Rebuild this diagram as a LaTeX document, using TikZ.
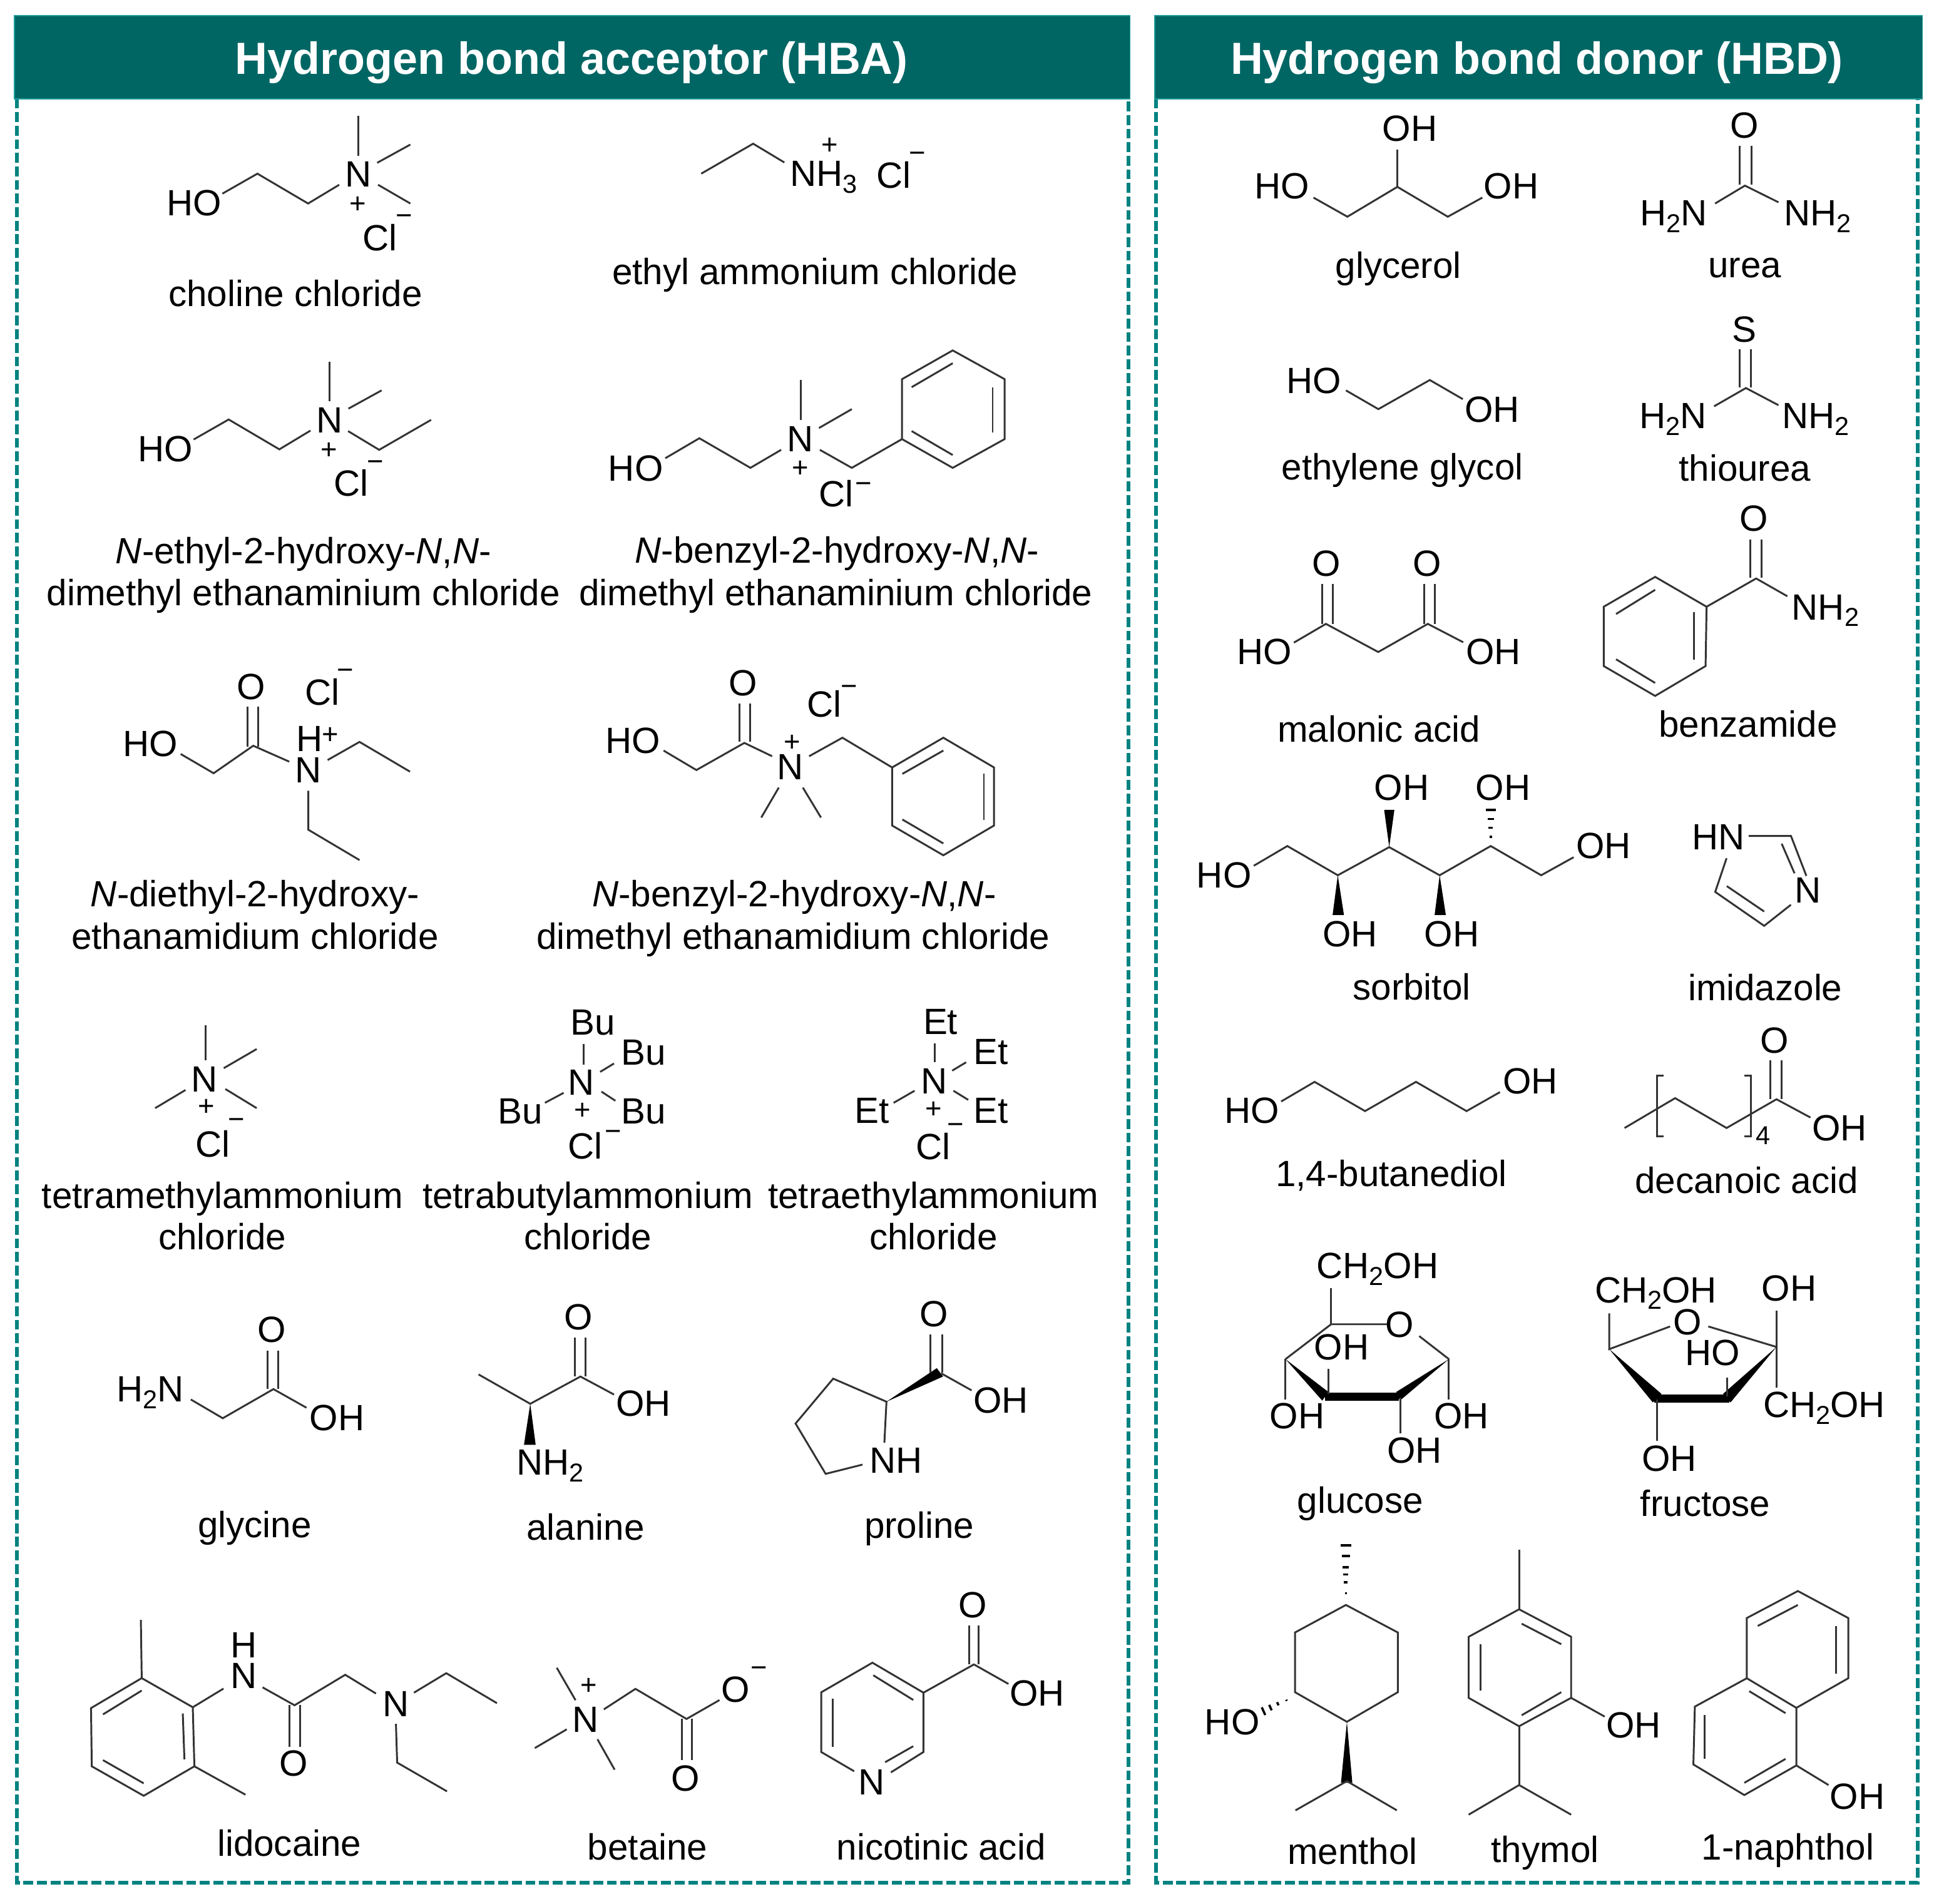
\documentclass[tikz,border=0pt]{standalone}
\usepackage{fontspec}
\setmainfont{Liberation Sans}
\definecolor{hdrteal}{HTML}{006664}
\definecolor{hdredge}{HTML}{1F9C9A}
\definecolor{dashteal}{HTML}{008280}
\definecolor{bondgray}{HTML}{333333}
\newcounter{nodeno}
\newcommand\sbs[1]{\raisebox{-5.5pt}{\fontsize{21}{21}\selectfont #1}}
\newcommand\atm[3]{\stepcounter{nodeno}\node[atomtext,anchor=base west,xshift=-1pt] (a\arabic{nodeno}) at (#1,#2) {#3};}
\newcommand\lbl[3]{\stepcounter{nodeno}\node[lbltext,anchor=base,yshift=-0.8pt] (l\arabic{nodeno}) at (#1,#2) {#3};}
\newcommand\chg[3]{\stepcounter{nodeno}\node[chgtext,yshift=-1.2pt] (c\arabic{nodeno}) at (#1,#2) {\vphantom{+}#3};}
\newcommand\bd[1]{\draw[bondline] #1;}
\newcommand\wdg[1]{\fill[wedgefill] #1 -- cycle;}
\newcommand\Nit{\textit{N}}
\tikzset{
  atomtext/.style={inner sep=0pt,font=\fontsize{29.6}{34}\selectfont,text=black},
  lbltext/.style={inner sep=0pt,font=\fontsize{29.6}{34}\selectfont,text=black},
  chgtext/.style={inner sep=0pt,font=\fontsize{23}{24}\selectfont,text=black},
  bondline/.style={line width=1.5pt,draw=bondgray,line join=miter},
  wedgefill/.style={fill=black},
  hashline/.style={line width=1.8pt,draw=black},
  panelframe/.style={line width=3pt,draw=dashteal,dash pattern=on 8pt off 3pt},
  hdrbar/.style={fill=hdrteal,draw=hdredge,line width=0.8pt},
  hdrtext/.style={inner sep=0pt,anchor=base,text=white,font=\fontsize{36.5}{40}\selectfont\bfseries},
}
\begin{document}
\begin{tikzpicture}[x=1pt,y=-1pt]
\useasboundingbox (0,0) rectangle (1568,1543.6);
% panels
\draw[panelframe] (13.5,80) -- (13.5,1526.5) -- (914.8,1526.5) -- (914.8,80);
\draw[panelframe] (937.2,80) -- (937.2,1526.5) -- (1554.6,1526.5) -- (1554.6,80);
\draw[hdrbar] (11.8,12.6) rectangle (916.2,80.2);
\draw[hdrbar] (936.2,12.6) rectangle (1558.5,80.2);
\node[hdrtext] (hba) at (463.5,60) {Hydrogen bond acceptor (HBA)};
\node[hdrtext] (hbd) at (1246,60) {Hydrogen bond donor (HBD)};

% choline chloride
\bd{(290.6,93.9)--(290.6,126.2)}
\bd{(305.8,132)--(332.7,117.2)}
\bd{(306.5,149.8)--(332.7,165)}
\bd{(180.3,157)--(208.7,140.8)--(249.8,165)--(275,149.8)}
\atm{136}{174.8}{HO}\atm{280.5}{151.5}{N}\atm{295}{203}{Cl}
\chg{290.3}{165}{+}\chg{327.5}{174.8}{−}
\lbl{239.5}{247.6}{choline chloride}

% ethyl ammonium chloride
\bd{(568.5,140.8)--(610.6,116.5)--(635.9,131.7)}
\atm{641.4}{151}{NH\sbs{3}}\atm{711.6}{152.7}{Cl}
\chg{672.8}{117}{+}\chg{744}{123.6}{−}
\lbl{660.8}{229.8}{ethyl ammonium chloride}

% N-ethyl
\bd{(267.3,293.2)--(267.3,325.5)}
\bd{(282.5,331.3)--(309.4,316.5)}
\bd{(157,356.3)--(185.4,340.1)--(226.5,364.3)--(251.7,349.1)}
\bd{(282.2,349.5)--(307.4,364.7)--(349.5,340.4)}
\atm{112.7}{374.1}{HO}\atm{257.2}{350.8}{N}\atm{271.7}{402.3}{Cl}
\chg{267}{364.3}{+}\chg{304.2}{374.1}{−}
\lbl{246}{456}{\Nit-ethyl-2-hydroxy-\Nit,\Nit-}
\lbl{246}{490.3}{dimethyl ethanaminium chloride}

% N-benzyl aminium
\bd{(649.5,308)--(649.5,340.4)}
\bd{(664,347)--(690.6,331.7)}
\bd{(539.4,371.5)--(567,355.3)--(608.4,379.3)--(633.3,364.7)}
\bd{(664.7,364.7)--(690.6,379.3)--(731.3,356)}
\bd{(731.3,356)--(731.3,307.4)--(772.4,284.1)--(814.5,307.4)--(814.5,356)--(772.4,379.3)--cycle}
\bd{(739.1,313.9)--(772.4,294.5)}
\bd{(804.8,313.9)--(804.8,350.5)}
\bd{(739.1,349.5)--(772.4,368.9)}
\atm{494}{390}{HO}\atm{639}{366.3}{N}\atm{664.7}{411}{Cl}
\chg{648.8}{379.3}{+}\chg{700.3}{391.6}{−}
\lbl{678.6}{455.7}{\Nit-benzyl-2-hydroxy-\Nit,\Nit-}
\lbl{677.6}{490.3}{dimethyl ethanaminium chloride}

% N-diethyl amidium
\bd{(146.5,611.3)--(173.2,626.9)--(205.3,604.6)--(234.5,617.5)}
\bd{(200.9,573)--(200.9,605.4)}
\bd{(209.2,573)--(209.2,605.4)}
\bd{(265.6,616.2)--(291.5,601.5)--(332.4,625.6)}
\bd{(250,641.1)--(250,672.7)--(291.5,697.3)}
\atm{100.4}{613.1}{HO}\atm{192.7}{567}{O}\atm{248}{571.7}{Cl}\atm{241}{609.3}{H}\atm{240}{634.6}{N}
\chg{279.8}{543.2}{−}\chg{267.7}{595.5}{+}
\lbl{206.8}{734}{\Nit-diethyl-2-hydroxy-}
\lbl{206.8}{768.5}{ethanamidium chloride}

% N-benzyl amidium
\bd{(538,608.5)--(564.6,624.3)--(603.5,602.3)--(626,613.1)}
\bd{(599.6,570.4)--(599.6,601.5)}
\bd{(608.1,570.4)--(608.1,601.5)}
\bd{(631.4,638.5)--(617.2,662.8)}
\bd{(650.9,638.5)--(665.6,662.8)}
\bd{(656,613.1)--(683,598.1)--(723.3,622.2)}
\bd{(723.3,622.2)--(764.8,598.1)--(805.9,622.2)--(805.9,669.3)--(764.8,693.4)--(723.3,669.3)--cycle}
\bd{(731.6,627.4)--(764.8,608.5)}
\bd{(797.7,627.4)--(797.7,664.9)}
\bd{(731.6,664.4)--(764.8,683.8)}
\atm{491.6}{610.5}{HO}\atm{591.7}{564}{O}\atm{631}{632}{N}\atm{655.2}{581.3}{Cl}
\chg{642.3}{601.5}{+}\chg{688.4}{556.2}{−}
\lbl{643.9}{734}{\Nit-benzyl-2-hydroxy-\Nit,\Nit-}
\lbl{643}{768.5}{dimethyl ethanamidium chloride}

% tetramethylammonium
\bd{(166.7,831.1)--(166.7,859.6)}
\bd{(181.4,866)--(208.1,850.5)}
\bd{(182.7,882.9)--(208.1,898.4)}
\bd{(150.4,883.7)--(125.8,898.4)}
\atm{156}{885}{N}\atm{159.4}{938}{Cl}
\chg{167.2}{896.6}{+}\chg{191.8}{907.5}{−}
\lbl{180.3}{979}{tetramethylammonium}
\lbl{180.3}{1012.4}{chloride}

% tetrabutylammonium
\bd{(473,846.6)--(473,862.9)}
\bd{(486.6,869)--(497.8,862.2)}
\bd{(441.8,894.1)--(457,886)}
\bd{(487.6,885)--(498.9,892.4)}
\atm{463.2}{839}{Bu}\atm{504.6}{863.5}{Bu}\atm{461.5}{887.7}{N}\atm{404.4}{911}{Bu}\atm{504.6}{911}{Bu}\atm{461.1}{939.3}{Cl}
\chg{472.3}{899.6}{+}\chg{497.2}{917.2}{−}
\lbl{476.6}{979}{tetrabutylammonium}
\lbl{476.6}{1012.4}{chloride}

% tetraethylammonium
\bd{(757.8,845.9)--(757.8,861.2)}
\bd{(772,868)--(783.3,861.2)}
\bd{(724.5,894.1)--(741.5,884.3)}
\bd{(773,884.3)--(785,891.7)}
\atm{749.3}{838.4}{Et}\atm{790}{862.9}{Et}\atm{747.6}{886.7}{N}\atm{693.9}{910.4}{Et}\atm{790}{910.4}{Et}\atm{743.5}{940}{Cl}
\chg{756.8}{898.5}{+}\chg{774.8}{911.5}{−}
\lbl{756.8}{979}{tetraethylammonium}
\lbl{756.8}{1012.4}{chloride}

% glycine
\bd{(154.7,1134.6)--(180.6,1149.8)--(221.7,1126.2)--(248.5,1141.3)}
\bd{(216.8,1095.2)--(216.8,1126.2)}
\bd{(225.5,1095.2)--(225.5,1126.2)}
\atm{95.5}{1136.3}{H\sbs{2}N}\atm{209.4}{1088.4}{O}\atm{251.8}{1159.9}{OH}
\lbl{206.5}{1245.9}{glycine}

% alanine
\bd{(388,1114.3)--(429.9,1138.1)--(470.6,1116)--(497.8,1130.6)}
\bd{(466.2,1084.4)--(466.2,1116)}
\bd{(474.7,1084.4)--(474.7,1116)}
\wdg{(429.9,1138.1)--(424.8,1171.4)--(434.3,1171.4)}
\atm{458.3}{1077.8}{O}\atm{500.2}{1148.3}{OH}\atm{419.7}{1195.9}{NH\sbs{2}}
\lbl{474.7}{1247.5}{alanine}

% proline
\bd{(717,1169.7)--(718.7,1136.4)--(675.5,1117.7)--(645,1154.1)--(669.4,1194.9)--(699.3,1187.4)}
\wdg{(718.7,1136.4)--(759.5,1109.2)--(764.6,1116)}
\bd{(762.9,1113.3)--(787.7,1127.2)}
\bd{(754.4,1082)--(754.4,1112.6)}
\bd{(763.9,1082)--(763.9,1112.6)}
\atm{746.5}{1075.4}{O}\atm{790}{1145.6}{OH}\atm{705.8}{1194.2}{NH}
\lbl{745.2}{1246}{proline}

% lidocaine
\bd{(114.9,1360.5)--(156.3,1384.1)--(157.6,1432)--(116.5,1455.9)--(74.4,1432)--(73.8,1384.8)--cycle}
\bd{(114.9,1360.5)--(114.2,1313.3)}
\bd{(157.6,1432)--(199,1455)}
\bd{(83.5,1389.9)--(114.9,1370.6)}
\bd{(148.2,1389.2)--(149.5,1426.3)}
\bd{(83.5,1427)--(116.5,1445.8)}
\bd{(156.3,1384.1)--(181.2,1369)}
\bd{(212.9,1368)--(238.8,1382.5)--(279.9,1357.8)--(304.8,1373)}
\bd{(234.6,1382.5)--(234.6,1416.2)}
\bd{(243.4,1382.5)--(243.4,1416.2)}
\bd{(335.6,1372.3)--(361.8,1356.5)--(402.9,1380.8)}
\bd{(321,1397.6)--(322,1429)--(362.4,1452.3)}
\atm{187.7}{1343.7}{H}\atm{187.7}{1369}{N}\atm{227.5}{1440}{O}\atm{311.3}{1391.6}{N}
\lbl{234.6}{1503.9}{lidocaine}

% betaine
\bd{(451.4,1352.1)--(466.6,1378.4)}
\bd{(433.6,1417.2)--(459.5,1402)}
\bd{(484.4,1410.1)--(498.3,1434.7)}
\bd{(489.6,1385.8)--(515.2,1369.2)--(556.6,1393.6)--(583.3,1378.3)}
\bd{(552.7,1393.6)--(552.7,1426.7)}
\bd{(561,1393.6)--(561,1426.7)}
\atm{465}{1404.4}{N}\atm{544.8}{1452.1}{O}\atm{585.4}{1380.2}{O}
\chg{477.3}{1366.3}{+}\chg{615.4}{1351.6}{−}
\lbl{525}{1507}{betaine}

% nicotinic acid
\bd{(692.5,1436)--(665.8,1420.4)--(665.8,1372)--(707.3,1348)--(748.7,1372.3)--(748.7,1420.4)--(722.3,1436.9)}
\bd{(708,1358.2)--(740.4,1378.2)}
\bd{(675.2,1377.4)--(675.2,1416.2)}
\bd{(717.6,1428.7)--(740.4,1415.7)}
\bd{(748.7,1372.3)--(789.6,1349.4)--(817.6,1365.2)}
\bd{(785.7,1317.9)--(785.7,1349.4)}
\bd{(793.5,1317.9)--(793.5,1349.4)}
\atm{696.8}{1455.3}{N}\atm{777.8}{1311.3}{O}\atm{819.5}{1383}{OH}
\lbl{763}{1507}{nicotinic acid}

% glycerol
\bd{(1132.9,121.4)--(1132.9,151.5)}
\bd{(1064.9,160.2)--(1092.4,175.7)--(1132.9,151.5)--(1173.8,175.7)--(1201.8,160.2)}
\atm{1121.6}{114.2}{OH}\atm{1018}{161.2}{HO}\atm{1203.9}{161.2}{OH}
\lbl{1133.7}{224.9}{glycerol}

% urea
\bd{(1410.6,118.1)--(1410.6,149.5)}
\bd{(1420.2,118.1)--(1420.2,149.5)}
\bd{(1390.5,165)--(1414.7,150.5)--(1441.9,164)}
\atm{1403.4}{111.7}{O}\atm{1330.5}{182.8}{H\sbs{2}N}\atm{1447}{182.8}{NH\sbs{2}}
\lbl{1414.7}{224}{urea}

% ethylene glycol
\bd{(1091.2,316.5)--(1117.5,331.7)--(1159.2,308.1)--(1186,323.6)}
\atm{1044}{318.8}{HO}\atm{1188.4}{342.4}{OH}
\lbl{1137}{388.3}{ethylene glycol}

% thiourea
\bd{(1410.6,283.2)--(1410.6,314)}
\bd{(1419.4,283.2)--(1419.4,314)}
\bd{(1389.7,329.4)--(1415.5,314.6)--(1441.9,328.5)}
\atm{1405}{277.4}{S}\atm{1330}{347.2}{H\sbs{2}N}\atm{1445.5}{347.2}{NH\sbs{2}}
\lbl{1414.7}{389.3}{thiourea}

% malonic acid
\bd{(1049,521)--(1075,505.8)--(1117.4,528.6)--(1157.6,505.8)--(1186.3,520.7)}
\bd{(1072,473.3)--(1072,505.8)}
\bd{(1080.6,473.3)--(1080.6,505.8)}
\bd{(1154.7,473.3)--(1154.7,505.8)}
\bd{(1163.2,473.3)--(1163.2,505.8)}
\atm{1003.9}{538.8}{HO}\atm{1189.3}{538.8}{OH}\atm{1064.5}{467.1}{O}\atm{1146.3}{467.1}{O}
\lbl{1118}{601}{malonic acid}

% benzamide
\bd{(1418.9,437.3)--(1418.9,468.6)}
\bd{(1428.2,437.3)--(1428.2,468.6)}
\bd{(1383.6,491.9)--(1423.8,469)--(1449.1,483.4)}
\bd{(1383.6,491.9)--(1341.9,467.7)--(1300.2,491.9)--(1300.2,540)--(1341.9,564.2)--(1382.8,540)--cycle}
\bd{(1310.2,497.8)--(1341.9,478.2)}
\bd{(1373.5,496.5)--(1373.5,534.9)}
\bd{(1310.2,534.5)--(1341.9,553.7)}
\atm{1411.4}{430.7}{O}\atm{1453.5}{502.4}{NH\sbs{2}}
\lbl{1417.2}{596.5}{benzamide}

% sorbitol
\bd{(1016.5,701.9)--(1043.7,685.9)--(1084.6,709.6)--(1126.3,686.8)--(1167.2,709.6)--(1208.6,685.9)--(1249.5,709.6)--(1275.8,695)}
\wdg{(1126.3,686.8)--(1122.2,656.5)--(1130.5,656.5)}
\wdg{(1084.6,709.6)--(1080.4,741.8)--(1089.6,741.8)}
\wdg{(1167.2,709.6)--(1163.1,741.8)--(1172.2,741.8)}
\draw[hashline] (1207.6,678.5)--(1209.6,678.5) (1206.8,671)--(1210.4,671) (1206,664)--(1211.2,664) (1204.6,656.5)--(1212.6,656.5);
\atm{971}{719.8}{HO}\atm{1278.7}{695.8}{OH}\atm{1115}{649}{OH}\atm{1197.3}{649}{OH}\atm{1073.3}{767.4}{OH}\atm{1155.6}{767.4}{OH}
\lbl{1144.5}{809.7}{sorbitol}

% imidazole
\bd{(1417.7,677.7)--(1452,677.7)--(1464.5,710.1)}
\bd{(1444.5,684)--(1454.9,708)}
\bd{(1452,733.5)--(1430.3,750.6)--(1390.6,723.1)--(1399.8,695.8)}
\bd{(1400,718.4)--(1430.3,739)}
\atm{1372.6}{688.7}{HN}\atm{1456}{732.2}{N}
\lbl{1431.1}{810.5}{imidazole}

% 1,4-butanediol
\bd{(1038.7,893)--(1065.8,877.1)--(1106.7,900.8)--(1148,877.1)--(1189,900.8)--(1216.1,885.4)}
\atm{993.6}{910.4}{HO}\atm{1219.4}{887}{OH}
\lbl{1128}{961}{1,4-butanediol}

% decanoic acid
\bd{(1317.1,914.5)--(1358.1,890.3)--(1399.8,914.5)--(1440.3,891.2)--(1467.8,906)}
\bd{(1348.9,871.9)--(1343.4,871.9)--(1343.4,921.4)--(1348.9,921.4)}
\bd{(1414.4,871.9)--(1419.4,871.9)--(1419.4,921.4)--(1414.4,921.4)}
\bd{(1435.3,859.5)--(1435.3,891.2)}
\bd{(1444.5,859.5)--(1444.5,891.2)}
\atm{1428.2}{854}{O}\atm{1470}{924.7}{OH}
\stepcounter{nodeno}\node[inner sep=0pt,anchor=base west,font=\fontsize{21}{21}\selectfont] (sub4) at (1423.6,928) {4};
\lbl{1416.1}{966.5}{decanoic acid}

% glucose
\bd{(1079.2,1044.3)--(1079.2,1073.6)}
\bd{(1042.2,1101.9)--(1079.2,1073.6)--(1125.3,1073.6)}
\bd{(1150.6,1083.2)--(1174.7,1101.9)}
\wdg{(1042.2,1101.9)--(1072,1135.5)--(1077,1128.5)}
\wdg{(1174.7,1101.9)--(1132,1128.5)--(1135,1135.5)}
\fill[wedgefill] (1074,1129) rectangle (1134,1135.5);
\bd{(1077.2,1109.7)--(1077.2,1130)}
\bd{(1042.2,1101.9)--(1042.2,1134.4)}
\bd{(1135.3,1133)--(1135.3,1162)}
\bd{(1174.7,1101.9)--(1174.7,1134.4)}
\atm{1068.3}{1036.5}{CH\sbs{2}OH}\atm{1124}{1084}{O}\atm{1066.3}{1102.6}{OH}\atm{1030.2}{1158.4}{OH}\atm{1125.3}{1186.3}{OH}\atm{1163.4}{1158.4}{OH}
\lbl{1102.8}{1226}{glucose}

% fructose
\bd{(1304.7,1064.8)--(1304.7,1093.8)--(1354,1075.4)}
\bd{(1385,1075.4)--(1440.3,1092)}
\bd{(1440.3,1062.6)--(1440.3,1124.9)}
\wdg{(1304.7,1093.8)--(1340,1137)--(1347,1130)}
\wdg{(1440.3,1092)--(1397,1130)--(1403,1137)}
\fill[wedgefill] (1341,1130.5) rectangle (1402,1137);
\bd{(1400.2,1116.7)--(1400.2,1132)}
\bd{(1343.2,1134.4)--(1343.2,1168)}
\atm{1293.8}{1056}{CH\sbs{2}OH}\atm{1357.6}{1081.9}{O}\atm{1429.1}{1054.9}{OH}\atm{1430.3}{1149.2}{CH\sbs{2}OH}\atm{1366.9}{1107.2}{HO}\atm{1332}{1192.7}{OH}
\lbl{1382.6}{1228.5}{fructose}

% menthol
\bd{(1091.2,1301.2)--(1133.3,1323.5)--(1133.3,1371.9)--(1092,1395.9)--(1049.9,1371.9)--(1049.9,1323.5)--cycle}
\draw[hashline] (1090.4,1291.6)--(1092,1291.6) (1089.7,1282.8)--(1092.7,1282.8) (1089.2,1276.5)--(1093.2,1276.5) (1088.7,1270.5)--(1093.7,1270.5) (1087.7,1261.6)--(1094.7,1261.6) (1086.8,1252.8)--(1095.6,1252.8);
\draw[hashline] (1042.8,1378)--(1043.2,1379) (1035.4,1380)--(1036.6,1382.6) (1029,1382.2)--(1031,1386.6) (1023,1384.2)--(1025.8,1390.4);
\wdg{(1092,1395.9)--(1087.2,1445.4)--(1096.4,1445.4)}
\bd{(1050.3,1467.7)--(1092,1444)--(1132.5,1467.7)}
\atm{977.6}{1406.5}{HO}
\lbl{1096.6}{1510.8}{menthol}

% thymol
\bd{(1231.6,1304.7)--(1273.8,1327)--(1273.8,1376.5)--(1231.6,1399.5)--(1190.7,1376.5)--(1190.7,1327)--cycle}
\bd{(1231.6,1304.7)--(1231.6,1256.3)}
\bd{(1233.7,1316.4)--(1265.8,1333)}
\bd{(1200.3,1333)--(1200.3,1370.5)}
\bd{(1233.7,1390.6)--(1265.8,1371.9)}
\bd{(1273.8,1376.5)--(1301,1391.7)}
\bd{(1231.6,1399.5)--(1231.6,1447.2)}
\bd{(1190.7,1471.2)--(1231.6,1447.2)--(1273.8,1471.2)}
\atm{1303.1}{1409}{OH}
\lbl{1252.7}{1509}{thymol}

% 1-naphthol
\bd{(1457.6,1289.9)--(1498.5,1311.8)--(1498.5,1360.6)--(1456.4,1384.6)--(1416.2,1360.6)--(1416.2,1311.8)--cycle}
\bd{(1416.2,1360.6)--(1374.1,1383.6)--(1372.9,1430.5)--(1414.2,1455.3)--(1456.4,1431.3)--(1456.4,1384.6)}
\bd{(1425.1,1318.2)--(1457.6,1301.2)}
\bd{(1488.5,1318.2)--(1488.5,1357)}
\bd{(1418.2,1371.1)--(1447.6,1388.9)}
\bd{(1382.1,1390.6)--(1382.1,1426)}
\bd{(1414.2,1445.4)--(1447.6,1426)}
\bd{(1456.4,1431.3)--(1482.5,1447.2)}
\atm{1484.5}{1466.6}{OH}
\lbl{1449.5}{1507.2}{1-naphthol}
\end{tikzpicture}
\end{document}
